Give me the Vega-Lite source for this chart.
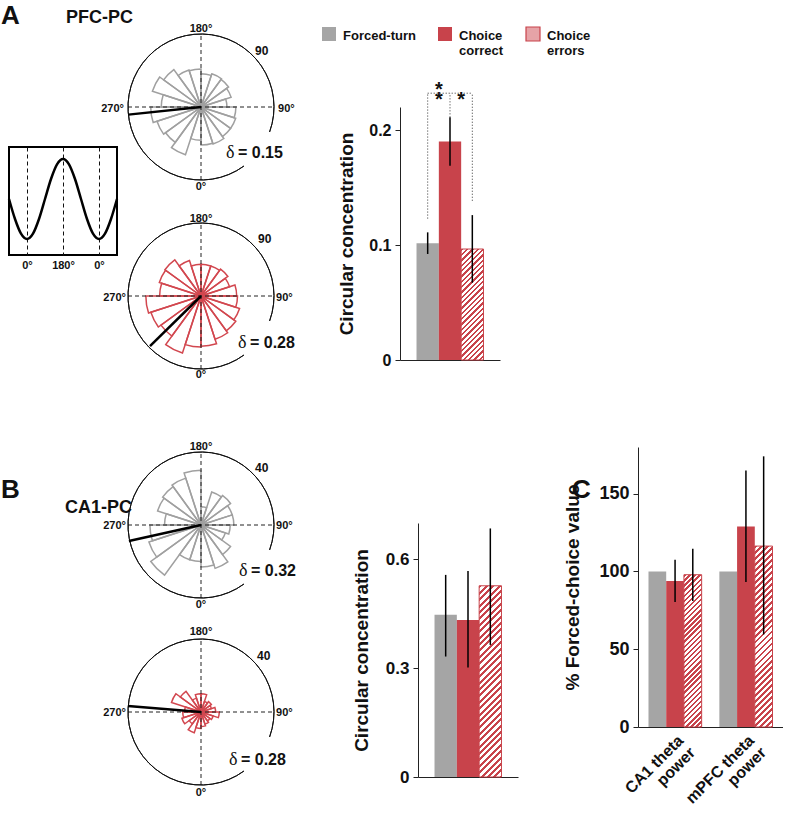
{
"$schema":"https://vega.github.io/schema/vega-lite/v6.json",
"padding":0,
"background":"white",
"config":{
 "font":"Liberation Sans",
 "view":{"stroke":null},
 "axis":{"labelFont":"Liberation Sans","titleFont":"Liberation Sans","labelColor":"#111","titleColor":"#111","labelFontWeight":"bold","titleFontWeight":"bold","domainColor":"#222","tickColor":"#222","grid":false},
 "title":{"font":"Liberation Sans","fontWeight":"bold","color":"#111","anchor":"start","frame":"group","baseline":"alphabetic"},
 "legend":{"labelFont":"Liberation Sans"}
},
"spacing":0,
"bounds":"flush",
"hconcat":[
 {"width":8,"height":1,"data":{"values":[]},"mark":"point"},
 {"spacing":0,"bounds":"flush","vconcat":[
  {"width":108,"height":147,"data":{"values":[]},"mark":"point"},
  {"width":108,"height":108,
   "view":{"stroke":"black","strokeWidth":2},
   "title":{"text":"A","fontSize":26,"dx":-8,"offset":118},
   "data":{"values":[{"phase":-90,"v":0},{"phase":-60,"v":-0.5},{"phase":-30,"v":-0.866},{"phase":0,"v":-1},{"phase":30,"v":-0.866},{"phase":60,"v":-0.5},{"phase":90,"v":0},{"phase":120,"v":0.5},{"phase":150,"v":0.866},{"phase":180,"v":1},{"phase":210,"v":0.866},{"phase":240,"v":0.5},{"phase":270,"v":0},{"phase":300,"v":-0.5},{"phase":330,"v":-0.866},{"phase":360,"v":-1},{"phase":390,"v":-0.866},{"phase":420,"v":-0.5},{"phase":450,"v":0}]},
   "mark":{"type":"line","color":"black","strokeWidth":2.5,"interpolate":"monotone"},
   "encoding":{
    "x":{"field":"phase","type":"quantitative","scale":{"domain":[-90,450],"nice":false,"zero":false},"axis":{"values":[0,180,360],"labelExpr":"datum.value == 180 ? '180°' : '0°'","grid":true,"gridDash":[4,3],"gridColor":"#111","gridWidth":1,"ticks":false,"tickSize":0,"domain":false,"title":null,"labelFontSize":11,"labelPadding":4}},
    "y":{"field":"v","type":"quantitative","scale":{"domain":[-1.4,1.3],"nice":false,"zero":false},"axis":null}
   }
  }
 ]},
 {"width":119,"height":1,"data":{"values":[]},"mark":"point"},
 {"spacing":0,"bounds":"flush","vconcat":[
  {"width":1,"height":34,"data":{"values":[]},"mark":"point"},
  {"width":146,"height":146,
   "title":{"text":"PFC-PC","fontSize":18,"dx":-62,"offset":-4},
   "data":{"values":[{"a0":0,"a1":18,"n":47},{"a0":18,"a1":36,"n":48},{"a0":36,"a1":54,"n":45},{"a0":54,"a1":72,"n":45},{"a0":72,"a1":90,"n":43},{"a0":90,"a1":108,"n":32},{"a0":108,"a1":126,"n":39},{"a0":126,"a1":144,"n":42},{"a0":144,"a1":162,"n":43},{"a0":162,"a1":180,"n":41},{"a0":180,"a1":198,"n":47},{"a0":198,"a1":216,"n":48},{"a0":216,"a1":234,"n":57},{"a0":234,"a1":252,"n":63},{"a0":252,"a1":270,"n":49},{"a0":270,"a1":288,"n":62},{"a0":288,"a1":306,"n":57},{"a0":306,"a1":324,"n":54},{"a0":324,"a1":342,"n":62},{"a0":342,"a1":360,"n":41}]},
   "layer":[
    {"mark":{"type":"arc","filled":false,"stroke":"#a0a0a0","strokeWidth":1.5},"encoding":{"theta":{"field":"a0","type":"quantitative","stack":null,"scale":{"type":"linear","domain":[0,360],"range":[3.141592653589793,-3.141592653589793],"zero":false,"nice":false}},"theta2":{"field":"a1"},"radius":{"field":"n","type":"quantitative","scale":{"type":"linear","domain":[0,90],"range":[0,73],"zero":true,"nice":false}}}},
    {"data":{"values":[{}]},"mark":{"type":"rule","color":"#222","strokeWidth":1,"strokeDash":[4,3]},"encoding":{"x":{"datum":0,"type":"quantitative","scale":{"domain":[-90,90],"nice":false,"zero":false},"axis":null},"y":{"datum":-90,"type":"quantitative","scale":{"domain":[-90,90],"nice":false,"zero":false},"axis":null},"y2":{"datum":90}}},
    {"data":{"values":[{}]},"mark":{"type":"rule","color":"#222","strokeWidth":1,"strokeDash":[4,3]},"encoding":{"x":{"datum":-90,"type":"quantitative","scale":{"domain":[-90,90],"nice":false,"zero":false},"axis":null},"x2":{"datum":90},"y":{"datum":0,"type":"quantitative","scale":{"domain":[-90,90],"nice":false,"zero":false},"axis":null}}},
    {"data":{"values":[{}]},"mark":{"type":"arc","filled":false,"stroke":"#111","strokeWidth":1},"encoding":{"theta":{"datum":70,"type":"quantitative","scale":{"type":"linear","domain":[0,360],"range":[3.141592653589793,-3.141592653589793],"zero":false,"nice":false}},"theta2":{"datum":396},"radius":{"datum":90,"type":"quantitative","scale":{"type":"linear","domain":[0,90],"range":[0,73],"zero":true,"nice":false}},"radius2":{"datum":90}}},
    {"data":{"values":[{}]},"mark":{"type":"rule","color":"black","strokeWidth":2.5},"encoding":{"x":{"datum":0,"type":"quantitative","scale":{"domain":[-90,90],"nice":false,"zero":false},"axis":null},"y":{"datum":0,"type":"quantitative","scale":{"domain":[-90,90],"nice":false,"zero":false},"axis":null},"x2":{"datum":-89.5},"y2":{"datum":-9.4}}},
    {"data":{"values":[{}]},"mark":{"type":"text","text":"180°","align":"center","baseline":"alphabetic","fontSize":11,"fontWeight":"bold","color":"#111"},"encoding":{"x":{"datum":0,"type":"quantitative","scale":{"domain":[-90,90],"nice":false,"zero":false},"axis":null},"y":{"datum":92.5,"type":"quantitative","scale":{"domain":[-90,90],"nice":false,"zero":false},"axis":null}}},
    {"data":{"values":[{}]},"mark":{"type":"text","text":"0°","align":"center","baseline":"alphabetic","fontSize":11,"fontWeight":"bold","color":"#111"},"encoding":{"x":{"datum":0,"type":"quantitative","scale":{"domain":[-90,90],"nice":false,"zero":false},"axis":null},"y":{"datum":-102.3,"type":"quantitative","scale":{"domain":[-90,90],"nice":false,"zero":false},"axis":null}}},
    {"data":{"values":[{}]},"mark":{"type":"text","text":"270°","align":"right","baseline":"alphabetic","fontSize":11,"fontWeight":"bold","color":"#111"},"encoding":{"x":{"datum":-95,"type":"quantitative","scale":{"domain":[-90,90],"nice":false,"zero":false},"axis":null},"y":{"datum":-6.2,"type":"quantitative","scale":{"domain":[-90,90],"nice":false,"zero":false},"axis":null}}},
    {"data":{"values":[{}]},"mark":{"type":"text","text":"90°","align":"left","baseline":"alphabetic","fontSize":11,"fontWeight":"bold","color":"#111"},"encoding":{"x":{"datum":95,"type":"quantitative","scale":{"domain":[-90,90],"nice":false,"zero":false},"axis":null},"y":{"datum":-6.2,"type":"quantitative","scale":{"domain":[-90,90],"nice":false,"zero":false},"axis":null}}},
    {"data":{"values":[{}]},"mark":{"type":"text","text":"90","align":"left","baseline":"alphabetic","fontSize":12,"fontWeight":"bold","color":"#111"},"encoding":{"x":{"datum":66.6,"type":"quantitative","scale":{"domain":[-90,90],"nice":false,"zero":false},"axis":null},"y":{"datum":64.1,"type":"quantitative","scale":{"domain":[-90,90],"nice":false,"zero":false},"axis":null}}},
    {"data":{"values":[{}]},"mark":{"type":"text","text":"δ","align":"left","baseline":"alphabetic","fontSize":18,"font":"Liberation Serif","color":"#111"},"encoding":{"x":{"datum":30.8,"type":"quantitative","scale":{"domain":[-90,90],"nice":false,"zero":false},"axis":null},"y":{"datum":-62.9,"type":"quantitative","scale":{"domain":[-90,90],"nice":false,"zero":false},"axis":null}}},
    {"data":{"values":[{}]},"mark":{"type":"text","text":"= 0.15","align":"left","baseline":"alphabetic","fontSize":16,"fontWeight":"bold","color":"#111"},"encoding":{"x":{"datum":45.6,"type":"quantitative","scale":{"domain":[-90,90],"nice":false,"zero":false},"axis":null},"y":{"datum":-62.9,"type":"quantitative","scale":{"domain":[-90,90],"nice":false,"zero":false},"axis":null}}}
   ]
  },
  {"width":1,"height":43,"data":{"values":[]},"mark":"point"},
  {"width":146,"height":146,
   "data":{"values":[{"a0":0,"a1":18,"n":62},{"a0":18,"a1":36,"n":56},{"a0":36,"a1":54,"n":53},{"a0":54,"a1":72,"n":50},{"a0":72,"a1":90,"n":45},{"a0":90,"a1":108,"n":44},{"a0":108,"a1":126,"n":37},{"a0":126,"a1":144,"n":41},{"a0":144,"a1":162,"n":39},{"a0":162,"a1":180,"n":39},{"a0":180,"a1":198,"n":39},{"a0":198,"a1":216,"n":46},{"a0":216,"a1":234,"n":55},{"a0":234,"a1":252,"n":54},{"a0":252,"a1":270,"n":51},{"a0":270,"a1":288,"n":68},{"a0":288,"a1":306,"n":65},{"a0":306,"a1":324,"n":61},{"a0":324,"a1":342,"n":74},{"a0":342,"a1":360,"n":63}]},
   "layer":[
    {"mark":{"type":"arc","filled":false,"stroke":"#d2474f","strokeWidth":1.5},"encoding":{"theta":{"field":"a0","type":"quantitative","stack":null,"scale":{"type":"linear","domain":[0,360],"range":[3.141592653589793,-3.141592653589793],"zero":false,"nice":false}},"theta2":{"field":"a1"},"radius":{"field":"n","type":"quantitative","scale":{"type":"linear","domain":[0,90],"range":[0,73],"zero":true,"nice":false}}}},
    {"data":{"values":[{}]},"mark":{"type":"rule","color":"#222","strokeWidth":1,"strokeDash":[4,3]},"encoding":{"x":{"datum":0,"type":"quantitative","scale":{"domain":[-90,90],"nice":false,"zero":false},"axis":null},"y":{"datum":-90,"type":"quantitative","scale":{"domain":[-90,90],"nice":false,"zero":false},"axis":null},"y2":{"datum":90}}},
    {"data":{"values":[{}]},"mark":{"type":"rule","color":"#222","strokeWidth":1,"strokeDash":[4,3]},"encoding":{"x":{"datum":-90,"type":"quantitative","scale":{"domain":[-90,90],"nice":false,"zero":false},"axis":null},"x2":{"datum":90},"y":{"datum":0,"type":"quantitative","scale":{"domain":[-90,90],"nice":false,"zero":false},"axis":null}}},
    {"data":{"values":[{}]},"mark":{"type":"arc","filled":false,"stroke":"#111","strokeWidth":1},"encoding":{"theta":{"datum":70,"type":"quantitative","scale":{"type":"linear","domain":[0,360],"range":[3.141592653589793,-3.141592653589793],"zero":false,"nice":false}},"theta2":{"datum":396},"radius":{"datum":90,"type":"quantitative","scale":{"type":"linear","domain":[0,90],"range":[0,73],"zero":true,"nice":false}},"radius2":{"datum":90}}},
    {"data":{"values":[{}]},"mark":{"type":"rule","color":"black","strokeWidth":2.5},"encoding":{"x":{"datum":0,"type":"quantitative","scale":{"domain":[-90,90],"nice":false,"zero":false},"axis":null},"y":{"datum":0,"type":"quantitative","scale":{"domain":[-90,90],"nice":false,"zero":false},"axis":null},"x2":{"datum":-62.9},"y2":{"datum":-61.7}}},
    {"data":{"values":[{}]},"mark":{"type":"text","text":"180°","align":"center","baseline":"alphabetic","fontSize":11,"fontWeight":"bold","color":"#111"},"encoding":{"x":{"datum":0,"type":"quantitative","scale":{"domain":[-90,90],"nice":false,"zero":false},"axis":null},"y":{"datum":91.2,"type":"quantitative","scale":{"domain":[-90,90],"nice":false,"zero":false},"axis":null}}},
    {"data":{"values":[{}]},"mark":{"type":"text","text":"0°","align":"center","baseline":"alphabetic","fontSize":11,"fontWeight":"bold","color":"#111"},"encoding":{"x":{"datum":0,"type":"quantitative","scale":{"domain":[-90,90],"nice":false,"zero":false},"axis":null},"y":{"datum":-101,"type":"quantitative","scale":{"domain":[-90,90],"nice":false,"zero":false},"axis":null}}},
    {"data":{"values":[{}]},"mark":{"type":"text","text":"270°","align":"right","baseline":"alphabetic","fontSize":11,"fontWeight":"bold","color":"#111"},"encoding":{"x":{"datum":-92.5,"type":"quantitative","scale":{"domain":[-90,90],"nice":false,"zero":false},"axis":null},"y":{"datum":-6.2,"type":"quantitative","scale":{"domain":[-90,90],"nice":false,"zero":false},"axis":null}}},
    {"data":{"values":[{}]},"mark":{"type":"text","text":"90°","align":"left","baseline":"alphabetic","fontSize":11,"fontWeight":"bold","color":"#111"},"encoding":{"x":{"datum":92.5,"type":"quantitative","scale":{"domain":[-90,90],"nice":false,"zero":false},"axis":null},"y":{"datum":-6.2,"type":"quantitative","scale":{"domain":[-90,90],"nice":false,"zero":false},"axis":null}}},
    {"data":{"values":[{}]},"mark":{"type":"text","text":"90","align":"left","baseline":"alphabetic","fontSize":12,"fontWeight":"bold","color":"#111"},"encoding":{"x":{"datum":70.3,"type":"quantitative","scale":{"domain":[-90,90],"nice":false,"zero":false},"axis":null},"y":{"datum":65.3,"type":"quantitative","scale":{"domain":[-90,90],"nice":false,"zero":false},"axis":null}}},
    {"data":{"values":[{}]},"mark":{"type":"text","text":"δ","align":"left","baseline":"alphabetic","fontSize":18,"font":"Liberation Serif","color":"#111"},"encoding":{"x":{"datum":45.6,"type":"quantitative","scale":{"domain":[-90,90],"nice":false,"zero":false},"axis":null},"y":{"datum":-64.1,"type":"quantitative","scale":{"domain":[-90,90],"nice":false,"zero":false},"axis":null}}},
    {"data":{"values":[{}]},"mark":{"type":"text","text":"= 0.28","align":"left","baseline":"alphabetic","fontSize":16,"fontWeight":"bold","color":"#111"},"encoding":{"x":{"datum":60.4,"type":"quantitative","scale":{"domain":[-90,90],"nice":false,"zero":false},"axis":null},"y":{"datum":-64.1,"type":"quantitative","scale":{"domain":[-90,90],"nice":false,"zero":false},"axis":null}}}
   ]
  },
  {"width":1,"height":83,"data":{"values":[]},"mark":"point"},
  {"width":146,"height":146,
   "title":{"text":"CA1-PC","fontSize":18,"dx":-63,"offset":-76},
   "data":{"values":[{"a0":0,"a1":18,"n":23},{"a0":18,"a1":36,"n":25},{"a0":36,"a1":54,"n":20},{"a0":54,"a1":72,"n":14},{"a0":72,"a1":90,"n":16},{"a0":90,"a1":108,"n":18},{"a0":108,"a1":126,"n":18},{"a0":126,"a1":144,"n":20},{"a0":144,"a1":162,"n":19},{"a0":162,"a1":180,"n":10},{"a0":180,"a1":198,"n":30},{"a0":198,"a1":216,"n":27},{"a0":216,"a1":234,"n":26},{"a0":234,"a1":252,"n":25},{"a0":252,"a1":270,"n":20},{"a0":270,"a1":288,"n":28},{"a0":288,"a1":306,"n":30},{"a0":306,"a1":324,"n":34},{"a0":324,"a1":342,"n":20},{"a0":342,"a1":360,"n":20}]},
   "layer":[
    {"mark":{"type":"arc","filled":false,"stroke":"#a0a0a0","strokeWidth":1.5},"encoding":{"theta":{"field":"a0","type":"quantitative","stack":null,"scale":{"type":"linear","domain":[0,360],"range":[3.141592653589793,-3.141592653589793],"zero":false,"nice":false}},"theta2":{"field":"a1"},"radius":{"field":"n","type":"quantitative","scale":{"type":"linear","domain":[0,40],"range":[0,73],"zero":true,"nice":false}}}},
    {"data":{"values":[{}]},"mark":{"type":"rule","color":"#222","strokeWidth":1,"strokeDash":[4,3]},"encoding":{"x":{"datum":0,"type":"quantitative","scale":{"domain":[-40,40],"nice":false,"zero":false},"axis":null},"y":{"datum":-40,"type":"quantitative","scale":{"domain":[-40,40],"nice":false,"zero":false},"axis":null},"y2":{"datum":40}}},
    {"data":{"values":[{}]},"mark":{"type":"rule","color":"#222","strokeWidth":1,"strokeDash":[4,3]},"encoding":{"x":{"datum":-40,"type":"quantitative","scale":{"domain":[-40,40],"nice":false,"zero":false},"axis":null},"x2":{"datum":40},"y":{"datum":0,"type":"quantitative","scale":{"domain":[-40,40],"nice":false,"zero":false},"axis":null}}},
    {"data":{"values":[{}]},"mark":{"type":"arc","filled":false,"stroke":"#111","strokeWidth":1},"encoding":{"theta":{"datum":70,"type":"quantitative","scale":{"type":"linear","domain":[0,360],"range":[3.141592653589793,-3.141592653589793],"zero":false,"nice":false}},"theta2":{"datum":396},"radius":{"datum":40,"type":"quantitative","scale":{"type":"linear","domain":[0,40],"range":[0,73],"zero":true,"nice":false}},"radius2":{"datum":40}}},
    {"data":{"values":[{}]},"mark":{"type":"rule","color":"black","strokeWidth":2.5},"encoding":{"x":{"datum":0,"type":"quantitative","scale":{"domain":[-40,40],"nice":false,"zero":false},"axis":null},"y":{"datum":0,"type":"quantitative","scale":{"domain":[-40,40],"nice":false,"zero":false},"axis":null},"x2":{"datum":-39.5},"y2":{"datum":-8.8}}},
    {"data":{"values":[{}]},"mark":{"type":"text","text":"180°","align":"center","baseline":"alphabetic","fontSize":11,"fontWeight":"bold","color":"#111"},"encoding":{"x":{"datum":0,"type":"quantitative","scale":{"domain":[-40,40],"nice":false,"zero":false},"axis":null},"y":{"datum":41.1,"type":"quantitative","scale":{"domain":[-40,40],"nice":false,"zero":false},"axis":null}}},
    {"data":{"values":[{}]},"mark":{"type":"text","text":"0°","align":"center","baseline":"alphabetic","fontSize":11,"fontWeight":"bold","color":"#111"},"encoding":{"x":{"datum":0,"type":"quantitative","scale":{"domain":[-40,40],"nice":false,"zero":false},"axis":null},"y":{"datum":-45.5,"type":"quantitative","scale":{"domain":[-40,40],"nice":false,"zero":false},"axis":null}}},
    {"data":{"values":[{}]},"mark":{"type":"text","text":"270°","align":"right","baseline":"alphabetic","fontSize":11,"fontWeight":"bold","color":"#111"},"encoding":{"x":{"datum":-41.1,"type":"quantitative","scale":{"domain":[-40,40],"nice":false,"zero":false},"axis":null},"y":{"datum":-2.2,"type":"quantitative","scale":{"domain":[-40,40],"nice":false,"zero":false},"axis":null}}},
    {"data":{"values":[{}]},"mark":{"type":"text","text":"90°","align":"left","baseline":"alphabetic","fontSize":11,"fontWeight":"bold","color":"#111"},"encoding":{"x":{"datum":41.1,"type":"quantitative","scale":{"domain":[-40,40],"nice":false,"zero":false},"axis":null},"y":{"datum":-2.2,"type":"quantitative","scale":{"domain":[-40,40],"nice":false,"zero":false},"axis":null}}},
    {"data":{"values":[{}]},"mark":{"type":"text","text":"40","align":"left","baseline":"alphabetic","fontSize":12,"fontWeight":"bold","color":"#111"},"encoding":{"x":{"datum":29.6,"type":"quantitative","scale":{"domain":[-40,40],"nice":false,"zero":false},"axis":null},"y":{"datum":29,"type":"quantitative","scale":{"domain":[-40,40],"nice":false,"zero":false},"axis":null}}},
    {"data":{"values":[{}]},"mark":{"type":"text","text":"δ","align":"left","baseline":"alphabetic","fontSize":18,"font":"Liberation Serif","color":"#111"},"encoding":{"x":{"datum":20.8,"type":"quantitative","scale":{"domain":[-40,40],"nice":false,"zero":false},"axis":null},"y":{"datum":-27.9,"type":"quantitative","scale":{"domain":[-40,40],"nice":false,"zero":false},"axis":null}}},
    {"data":{"values":[{}]},"mark":{"type":"text","text":"= 0.32","align":"left","baseline":"alphabetic","fontSize":16,"fontWeight":"bold","color":"#111"},"encoding":{"x":{"datum":27.4,"type":"quantitative","scale":{"domain":[-40,40],"nice":false,"zero":false},"axis":null},"y":{"datum":-27.9,"type":"quantitative","scale":{"domain":[-40,40],"nice":false,"zero":false},"axis":null}}}
   ]
  },
  {"width":1,"height":41,"data":{"values":[]},"mark":"point"},
  {"width":146,"height":146,
   "data":{"values":[{"a0":0,"a1":18,"n":8},{"a0":18,"a1":36,"n":7},{"a0":36,"a1":54,"n":6},{"a0":54,"a1":72,"n":7},{"a0":72,"a1":90,"n":10},{"a0":90,"a1":108,"n":8},{"a0":108,"a1":126,"n":6},{"a0":126,"a1":144,"n":7},{"a0":144,"a1":162,"n":6},{"a0":162,"a1":180,"n":10},{"a0":180,"a1":198,"n":10},{"a0":198,"a1":216,"n":8},{"a0":216,"a1":234,"n":14},{"a0":234,"a1":252,"n":17},{"a0":252,"a1":270,"n":9},{"a0":270,"a1":288,"n":10},{"a0":288,"a1":306,"n":11},{"a0":306,"a1":324,"n":8},{"a0":324,"a1":342,"n":12},{"a0":342,"a1":360,"n":9}]},
   "layer":[
    {"mark":{"type":"arc","filled":false,"stroke":"#d2474f","strokeWidth":1.5},"encoding":{"theta":{"field":"a0","type":"quantitative","stack":null,"scale":{"type":"linear","domain":[0,360],"range":[3.141592653589793,-3.141592653589793],"zero":false,"nice":false}},"theta2":{"field":"a1"},"radius":{"field":"n","type":"quantitative","scale":{"type":"linear","domain":[0,40],"range":[0,73],"zero":true,"nice":false}}}},
    {"data":{"values":[{}]},"mark":{"type":"rule","color":"#222","strokeWidth":1,"strokeDash":[4,3]},"encoding":{"x":{"datum":0,"type":"quantitative","scale":{"domain":[-40,40],"nice":false,"zero":false},"axis":null},"y":{"datum":-40,"type":"quantitative","scale":{"domain":[-40,40],"nice":false,"zero":false},"axis":null},"y2":{"datum":40}}},
    {"data":{"values":[{}]},"mark":{"type":"rule","color":"#222","strokeWidth":1,"strokeDash":[4,3]},"encoding":{"x":{"datum":-40,"type":"quantitative","scale":{"domain":[-40,40],"nice":false,"zero":false},"axis":null},"x2":{"datum":40},"y":{"datum":0,"type":"quantitative","scale":{"domain":[-40,40],"nice":false,"zero":false},"axis":null}}},
    {"data":{"values":[{}]},"mark":{"type":"arc","filled":false,"stroke":"#111","strokeWidth":1},"encoding":{"theta":{"datum":70,"type":"quantitative","scale":{"type":"linear","domain":[0,360],"range":[3.141592653589793,-3.141592653589793],"zero":false,"nice":false}},"theta2":{"datum":396},"radius":{"datum":40,"type":"quantitative","scale":{"type":"linear","domain":[0,40],"range":[0,73],"zero":true,"nice":false}},"radius2":{"datum":40}}},
    {"data":{"values":[{}]},"mark":{"type":"rule","color":"black","strokeWidth":2.5},"encoding":{"x":{"datum":0,"type":"quantitative","scale":{"domain":[-40,40],"nice":false,"zero":false},"axis":null},"y":{"datum":0,"type":"quantitative","scale":{"domain":[-40,40],"nice":false,"zero":false},"axis":null},"x2":{"datum":-40},"y2":{"datum":3.3}}},
    {"data":{"values":[{}]},"mark":{"type":"text","text":"180°","align":"center","baseline":"alphabetic","fontSize":11,"fontWeight":"bold","color":"#111"},"encoding":{"x":{"datum":0,"type":"quantitative","scale":{"domain":[-40,40],"nice":false,"zero":false},"axis":null},"y":{"datum":42.2,"type":"quantitative","scale":{"domain":[-40,40],"nice":false,"zero":false},"axis":null}}},
    {"data":{"values":[{}]},"mark":{"type":"text","text":"0°","align":"center","baseline":"alphabetic","fontSize":11,"fontWeight":"bold","color":"#111"},"encoding":{"x":{"datum":0,"type":"quantitative","scale":{"domain":[-40,40],"nice":false,"zero":false},"axis":null},"y":{"datum":-46,"type":"quantitative","scale":{"domain":[-40,40],"nice":false,"zero":false},"axis":null}}},
    {"data":{"values":[{}]},"mark":{"type":"text","text":"270°","align":"right","baseline":"alphabetic","fontSize":11,"fontWeight":"bold","color":"#111"},"encoding":{"x":{"datum":-41.1,"type":"quantitative","scale":{"domain":[-40,40],"nice":false,"zero":false},"axis":null},"y":{"datum":-2.2,"type":"quantitative","scale":{"domain":[-40,40],"nice":false,"zero":false},"axis":null}}},
    {"data":{"values":[{}]},"mark":{"type":"text","text":"90°","align":"left","baseline":"alphabetic","fontSize":11,"fontWeight":"bold","color":"#111"},"encoding":{"x":{"datum":41.1,"type":"quantitative","scale":{"domain":[-40,40],"nice":false,"zero":false},"axis":null},"y":{"datum":-2.2,"type":"quantitative","scale":{"domain":[-40,40],"nice":false,"zero":false},"axis":null}}},
    {"data":{"values":[{}]},"mark":{"type":"text","text":"40","align":"left","baseline":"alphabetic","fontSize":12,"fontWeight":"bold","color":"#111"},"encoding":{"x":{"datum":30.7,"type":"quantitative","scale":{"domain":[-40,40],"nice":false,"zero":false},"axis":null},"y":{"datum":28.5,"type":"quantitative","scale":{"domain":[-40,40],"nice":false,"zero":false},"axis":null}}},
    {"data":{"values":[{}]},"mark":{"type":"text","text":"δ","align":"left","baseline":"alphabetic","fontSize":18,"font":"Liberation Serif","color":"#111"},"encoding":{"x":{"datum":15.3,"type":"quantitative","scale":{"domain":[-40,40],"nice":false,"zero":false},"axis":null},"y":{"datum":-29,"type":"quantitative","scale":{"domain":[-40,40],"nice":false,"zero":false},"axis":null}}},
    {"data":{"values":[{}]},"mark":{"type":"text","text":"= 0.28","align":"left","baseline":"alphabetic","fontSize":16,"fontWeight":"bold","color":"#111"},"encoding":{"x":{"datum":21.9,"type":"quantitative","scale":{"domain":[-40,40],"nice":false,"zero":false},"axis":null},"y":{"datum":-29,"type":"quantitative","scale":{"domain":[-40,40],"nice":false,"zero":false},"axis":null}}}
   ]
  }
 ]},
 {"width":272,"height":1,"data":{"values":[]},"mark":"point"},
 {"spacing":0,"bounds":"flush","vconcat":[
  {"width":1,"height":107,"data":{"values":[]},"mark":"point"},
  {"width":100,"height":253,
   "data":{"values":[{"cond":"Forced-turn","v":0.1015,"lo":0.0922,"hi":0.111},{"cond":"Choice correct","v":0.19,"lo":0.169,"hi":0.211},{"cond":"Choice errors","v":0.0965,"lo":0.0672,"hi":0.126}]},
   "encoding":{
    "x":{"field":"cond","type":"nominal","sort":["Forced-turn","Choice correct","Choice errors"],"scale":{"domain":["Forced-turn","Choice correct","Choice errors"],"paddingInner":0,"paddingOuter":0.74},"axis":{"title":null,"labels":false,"ticks":false}},
    "y":{"field":"v","type":"quantitative","scale":{"domain":[0,0.22],"nice":false,"zero":true},"axis":{"values":[0,0.1,0.2],"labelExpr":"datum.value == 0 ? '0' : format(datum.value, '.1f')","title":"Circular concentration","titleFontSize":19,"labelFontSize":16,"tickSize":5,"labelPadding":4,"titlePadding":12}}
   },
   "layer":[
    {"transform":[{"filter":"datum.cond != 'Choice errors'"}],"mark":{"type":"bar"},
     "encoding":{"color":{"field":"cond","type":"nominal","scale":{"domain":["Forced-turn","Choice correct","Choice errors"],"range":["#a5a5a5","#c8434b","#e6a3a7"]},
      "legend":{"title":null,"orient":"none","legendX":320,"legendY":26,"direction":"horizontal","symbolType":"square","symbolSize":196,"labelFontSize":13,"labelFontWeight":"bold","labelColor":"#111","labelOffset":6,"columnPadding":19,"padding":0,"labelLimit":300,
       "labelExpr":"datum.value == 'Choice correct' ? ['Choice','correct'] : datum.value == 'Choice errors' ? ['Choice','errors'] : ['Forced-turn','']",
       "encode":{"symbols":{"update":{"fill":[{"test":"datum.value === 'Choice errors'","value":{"gradient":"linear","x1":0,"y1":0,"x2":1,"y2":1,"stops":[{"offset":0,"color":"#c8434b"},{"offset":0.38,"color":"#c8434b"},{"offset":0.38,"color":"#ffffff"},{"offset":0.62,"color":"#ffffff"},{"offset":0.62,"color":"#c8434b"},{"offset":1,"color":"#c8434b"}]}},{"test":"datum.value === 'Choice correct'","value":"#c8434b"},{"value":"#a5a5a5"}],"stroke":[{"test":"datum.value === 'Choice errors'","value":"#c8434b"},{"value":"transparent"}],"strokeWidth":{"value":1.2}}},"labels":{"update":{"lineHeight":{"value":15},"dy":{"value":2}}}}}}}},
    {"transform":[{"filter":"datum.cond == 'Choice errors'"}],"mark":{"type":"bar","stroke":"#c8434b","strokeWidth":1,"fill":{"gradient":"linear","x1":0,"y1":0,"x2":0.2321,"y2":1.1543,"stops":[{"offset":0,"color":"#c8434b"},{"offset":0.018,"color":"#c8434b"},{"offset":0.018,"color":"#ffffff"},{"offset":0.04,"color":"#ffffff"},{"offset":0.04,"color":"#c8434b"},{"offset":0.058,"color":"#c8434b"},{"offset":0.058,"color":"#ffffff"},{"offset":0.08,"color":"#ffffff"},{"offset":0.08,"color":"#c8434b"},{"offset":0.098,"color":"#c8434b"},{"offset":0.098,"color":"#ffffff"},{"offset":0.12,"color":"#ffffff"},{"offset":0.12,"color":"#c8434b"},{"offset":0.138,"color":"#c8434b"},{"offset":0.138,"color":"#ffffff"},{"offset":0.16,"color":"#ffffff"},{"offset":0.16,"color":"#c8434b"},{"offset":0.178,"color":"#c8434b"},{"offset":0.178,"color":"#ffffff"},{"offset":0.2,"color":"#ffffff"},{"offset":0.2,"color":"#c8434b"},{"offset":0.218,"color":"#c8434b"},{"offset":0.218,"color":"#ffffff"},{"offset":0.24,"color":"#ffffff"},{"offset":0.24,"color":"#c8434b"},{"offset":0.258,"color":"#c8434b"},{"offset":0.258,"color":"#ffffff"},{"offset":0.28,"color":"#ffffff"},{"offset":0.28,"color":"#c8434b"},{"offset":0.298,"color":"#c8434b"},{"offset":0.298,"color":"#ffffff"},{"offset":0.32,"color":"#ffffff"},{"offset":0.32,"color":"#c8434b"},{"offset":0.338,"color":"#c8434b"},{"offset":0.338,"color":"#ffffff"},{"offset":0.36,"color":"#ffffff"},{"offset":0.36,"color":"#c8434b"},{"offset":0.378,"color":"#c8434b"},{"offset":0.378,"color":"#ffffff"},{"offset":0.4,"color":"#ffffff"},{"offset":0.4,"color":"#c8434b"},{"offset":0.418,"color":"#c8434b"},{"offset":0.418,"color":"#ffffff"},{"offset":0.44,"color":"#ffffff"},{"offset":0.44,"color":"#c8434b"},{"offset":0.458,"color":"#c8434b"},{"offset":0.458,"color":"#ffffff"},{"offset":0.48,"color":"#ffffff"},{"offset":0.48,"color":"#c8434b"},{"offset":0.498,"color":"#c8434b"},{"offset":0.498,"color":"#ffffff"},{"offset":0.52,"color":"#ffffff"},{"offset":0.52,"color":"#c8434b"},{"offset":0.538,"color":"#c8434b"},{"offset":0.538,"color":"#ffffff"},{"offset":0.56,"color":"#ffffff"},{"offset":0.56,"color":"#c8434b"},{"offset":0.578,"color":"#c8434b"},{"offset":0.578,"color":"#ffffff"},{"offset":0.6,"color":"#ffffff"},{"offset":0.6,"color":"#c8434b"},{"offset":0.618,"color":"#c8434b"},{"offset":0.618,"color":"#ffffff"},{"offset":0.64,"color":"#ffffff"},{"offset":0.64,"color":"#c8434b"},{"offset":0.658,"color":"#c8434b"},{"offset":0.658,"color":"#ffffff"},{"offset":0.68,"color":"#ffffff"},{"offset":0.68,"color":"#c8434b"},{"offset":0.698,"color":"#c8434b"},{"offset":0.698,"color":"#ffffff"},{"offset":0.72,"color":"#ffffff"},{"offset":0.72,"color":"#c8434b"},{"offset":0.738,"color":"#c8434b"},{"offset":0.738,"color":"#ffffff"},{"offset":0.76,"color":"#ffffff"},{"offset":0.76,"color":"#c8434b"},{"offset":0.778,"color":"#c8434b"},{"offset":0.778,"color":"#ffffff"},{"offset":0.8,"color":"#ffffff"},{"offset":0.8,"color":"#c8434b"},{"offset":0.818,"color":"#c8434b"},{"offset":0.818,"color":"#ffffff"},{"offset":0.84,"color":"#ffffff"},{"offset":0.84,"color":"#c8434b"},{"offset":0.858,"color":"#c8434b"},{"offset":0.858,"color":"#ffffff"},{"offset":0.88,"color":"#ffffff"},{"offset":0.88,"color":"#c8434b"},{"offset":0.898,"color":"#c8434b"},{"offset":0.898,"color":"#ffffff"},{"offset":0.92,"color":"#ffffff"},{"offset":0.92,"color":"#c8434b"},{"offset":0.938,"color":"#c8434b"},{"offset":0.938,"color":"#ffffff"},{"offset":0.96,"color":"#ffffff"},{"offset":0.96,"color":"#c8434b"},{"offset":0.978,"color":"#c8434b"},{"offset":0.978,"color":"#ffffff"},{"offset":1,"color":"#ffffff"}]}}},
    {"mark":{"type":"rule","color":"black","strokeWidth":1.5},"encoding":{"y":{"field":"lo","type":"quantitative","scale":{"domain":[0,0.22],"nice":false,"zero":true},"title":"Circular concentration"},"y2":{"field":"hi"}}},
    {"transform":[{"filter":"datum.cond == 'Forced-turn'"}],"mark":{"type":"rule","color":"#333","strokeWidth":1,"strokeDash":[1,2]},"encoding":{"y":{"datum":0.123,"type":"quantitative","scale":{"domain":[0,0.22],"nice":false,"zero":true}},"y2":{"datum":0.232}}},
    {"transform":[{"filter":"datum.cond == 'Choice correct'"}],"mark":{"type":"rule","color":"#333","strokeWidth":1,"strokeDash":[1,2]},"encoding":{"y":{"datum":0.211,"type":"quantitative","scale":{"domain":[0,0.22],"nice":false,"zero":true}},"y2":{"datum":0.232}}},
    {"transform":[{"filter":"datum.cond == 'Choice errors'"}],"mark":{"type":"rule","color":"#333","strokeWidth":1,"strokeDash":[1,2]},"encoding":{"y":{"datum":0.1385,"type":"quantitative","scale":{"domain":[0,0.22],"nice":false,"zero":true}},"y2":{"datum":0.232}}},
    {"mark":{"type":"line","color":"#333","strokeWidth":1,"strokeDash":[1,2]},"encoding":{"y":{"datum":0.232,"type":"quantitative","scale":{"domain":[0,0.22],"nice":false,"zero":true}}}},
    {"transform":[{"filter":"datum.cond == 'Choice correct'"}],"mark":{"type":"text","text":["*","*"],"lineHeight":10,"fontSize":20,"fontWeight":"bold","align":"center","baseline":"alphabetic","color":"#111"},"encoding":{"x":{"field":"cond","type":"nominal","bandPosition":0},"y":{"datum":0.2296,"type":"quantitative","scale":{"domain":[0,0.22],"nice":false,"zero":true}}}},
    {"transform":[{"filter":"datum.cond == 'Choice errors'"}],"mark":{"type":"text","text":"*","fontSize":20,"fontWeight":"bold","align":"center","baseline":"alphabetic","color":"#111"},"encoding":{"x":{"field":"cond","type":"nominal","bandPosition":0},"y":{"datum":0.2209,"type":"quantitative","scale":{"domain":[0,0.22],"nice":false,"zero":true}}}}
   ]
  },
  {"width":1,"height":163,"data":{"values":[]},"mark":"point"},
  {"spacing":0,"bounds":"flush","hconcat":[
   {"width":18,"height":1,"data":{"values":[]},"mark":"point"},
   {"width":100,"height":254,
    "title":{"text":"B","fontSize":26,"dx":-417,"offset":20},
    "data":{"values":[{"cond":"Forced-turn","v":0.447,"lo":0.332,"hi":0.557},{"cond":"Choice correct","v":0.433,"lo":0.302,"hi":0.568},{"cond":"Choice errors","v":0.527,"lo":0.364,"hi":0.685}]},
    "encoding":{
     "x":{"field":"cond","type":"nominal","sort":["Forced-turn","Choice correct","Choice errors"],"scale":{"domain":["Forced-turn","Choice correct","Choice errors"],"paddingInner":0,"paddingOuter":0.74},"axis":{"title":null,"labels":false,"ticks":false}},
     "y":{"field":"v","type":"quantitative","scale":{"domain":[0,0.7],"nice":false,"zero":true},"axis":{"values":[0,0.3,0.6],"labelExpr":"datum.value == 0 ? '0' : format(datum.value, '.1f')","title":"Circular concentration","titleFontSize":19,"labelFontSize":17,"tickSize":5,"labelPadding":4,"titlePadding":14}}
    },
    "layer":[
     {"transform":[{"filter":"datum.cond != 'Choice errors'"}],"mark":{"type":"bar"},"encoding":{"color":{"condition":{"test":"datum.cond == 'Forced-turn'","value":"#a5a5a5"},"value":"#c8434b"}}},
     {"transform":[{"filter":"datum.cond == 'Choice errors'"}],"mark":{"type":"bar","stroke":"#c8434b","strokeWidth":1,"fill":{"gradient":"linear","x1":0,"y1":0,"x2":0.1286,"y2":1.1017,"stops":[{"offset":0,"color":"#c8434b"},{"offset":0.014,"color":"#c8434b"},{"offset":0.014,"color":"#ffffff"},{"offset":0.03,"color":"#ffffff"},{"offset":0.03,"color":"#c8434b"},{"offset":0.044,"color":"#c8434b"},{"offset":0.044,"color":"#ffffff"},{"offset":0.06,"color":"#ffffff"},{"offset":0.06,"color":"#c8434b"},{"offset":0.074,"color":"#c8434b"},{"offset":0.074,"color":"#ffffff"},{"offset":0.09,"color":"#ffffff"},{"offset":0.09,"color":"#c8434b"},{"offset":0.104,"color":"#c8434b"},{"offset":0.104,"color":"#ffffff"},{"offset":0.12,"color":"#ffffff"},{"offset":0.12,"color":"#c8434b"},{"offset":0.134,"color":"#c8434b"},{"offset":0.134,"color":"#ffffff"},{"offset":0.15,"color":"#ffffff"},{"offset":0.15,"color":"#c8434b"},{"offset":0.164,"color":"#c8434b"},{"offset":0.164,"color":"#ffffff"},{"offset":0.18,"color":"#ffffff"},{"offset":0.18,"color":"#c8434b"},{"offset":0.194,"color":"#c8434b"},{"offset":0.194,"color":"#ffffff"},{"offset":0.21,"color":"#ffffff"},{"offset":0.21,"color":"#c8434b"},{"offset":0.224,"color":"#c8434b"},{"offset":0.224,"color":"#ffffff"},{"offset":0.24,"color":"#ffffff"},{"offset":0.24,"color":"#c8434b"},{"offset":0.254,"color":"#c8434b"},{"offset":0.254,"color":"#ffffff"},{"offset":0.27,"color":"#ffffff"},{"offset":0.27,"color":"#c8434b"},{"offset":0.284,"color":"#c8434b"},{"offset":0.284,"color":"#ffffff"},{"offset":0.3,"color":"#ffffff"},{"offset":0.3,"color":"#c8434b"},{"offset":0.314,"color":"#c8434b"},{"offset":0.314,"color":"#ffffff"},{"offset":0.33,"color":"#ffffff"},{"offset":0.33,"color":"#c8434b"},{"offset":0.344,"color":"#c8434b"},{"offset":0.344,"color":"#ffffff"},{"offset":0.36,"color":"#ffffff"},{"offset":0.36,"color":"#c8434b"},{"offset":0.374,"color":"#c8434b"},{"offset":0.374,"color":"#ffffff"},{"offset":0.39,"color":"#ffffff"},{"offset":0.39,"color":"#c8434b"},{"offset":0.404,"color":"#c8434b"},{"offset":0.404,"color":"#ffffff"},{"offset":0.42,"color":"#ffffff"},{"offset":0.42,"color":"#c8434b"},{"offset":0.434,"color":"#c8434b"},{"offset":0.434,"color":"#ffffff"},{"offset":0.45,"color":"#ffffff"},{"offset":0.45,"color":"#c8434b"},{"offset":0.464,"color":"#c8434b"},{"offset":0.464,"color":"#ffffff"},{"offset":0.48,"color":"#ffffff"},{"offset":0.48,"color":"#c8434b"},{"offset":0.494,"color":"#c8434b"},{"offset":0.494,"color":"#ffffff"},{"offset":0.51,"color":"#ffffff"},{"offset":0.51,"color":"#c8434b"},{"offset":0.524,"color":"#c8434b"},{"offset":0.524,"color":"#ffffff"},{"offset":0.54,"color":"#ffffff"},{"offset":0.54,"color":"#c8434b"},{"offset":0.554,"color":"#c8434b"},{"offset":0.554,"color":"#ffffff"},{"offset":0.57,"color":"#ffffff"},{"offset":0.57,"color":"#c8434b"},{"offset":0.584,"color":"#c8434b"},{"offset":0.584,"color":"#ffffff"},{"offset":0.6,"color":"#ffffff"},{"offset":0.6,"color":"#c8434b"},{"offset":0.614,"color":"#c8434b"},{"offset":0.614,"color":"#ffffff"},{"offset":0.63,"color":"#ffffff"},{"offset":0.63,"color":"#c8434b"},{"offset":0.644,"color":"#c8434b"},{"offset":0.644,"color":"#ffffff"},{"offset":0.66,"color":"#ffffff"},{"offset":0.66,"color":"#c8434b"},{"offset":0.674,"color":"#c8434b"},{"offset":0.674,"color":"#ffffff"},{"offset":0.69,"color":"#ffffff"},{"offset":0.69,"color":"#c8434b"},{"offset":0.704,"color":"#c8434b"},{"offset":0.704,"color":"#ffffff"},{"offset":0.72,"color":"#ffffff"},{"offset":0.72,"color":"#c8434b"},{"offset":0.734,"color":"#c8434b"},{"offset":0.734,"color":"#ffffff"},{"offset":0.75,"color":"#ffffff"},{"offset":0.75,"color":"#c8434b"},{"offset":0.764,"color":"#c8434b"},{"offset":0.764,"color":"#ffffff"},{"offset":0.78,"color":"#ffffff"},{"offset":0.78,"color":"#c8434b"},{"offset":0.794,"color":"#c8434b"},{"offset":0.794,"color":"#ffffff"},{"offset":0.81,"color":"#ffffff"},{"offset":0.81,"color":"#c8434b"},{"offset":0.824,"color":"#c8434b"},{"offset":0.824,"color":"#ffffff"},{"offset":0.84,"color":"#ffffff"},{"offset":0.84,"color":"#c8434b"},{"offset":0.854,"color":"#c8434b"},{"offset":0.854,"color":"#ffffff"},{"offset":0.87,"color":"#ffffff"},{"offset":0.87,"color":"#c8434b"},{"offset":0.884,"color":"#c8434b"},{"offset":0.884,"color":"#ffffff"},{"offset":0.9,"color":"#ffffff"},{"offset":0.9,"color":"#c8434b"},{"offset":0.914,"color":"#c8434b"},{"offset":0.914,"color":"#ffffff"},{"offset":0.93,"color":"#ffffff"},{"offset":0.93,"color":"#c8434b"},{"offset":0.944,"color":"#c8434b"},{"offset":0.944,"color":"#ffffff"},{"offset":0.96,"color":"#ffffff"},{"offset":0.96,"color":"#c8434b"},{"offset":0.974,"color":"#c8434b"},{"offset":0.974,"color":"#ffffff"},{"offset":0.99,"color":"#ffffff"},{"offset":0.99,"color":"#c8434b"},{"offset":1,"color":"#c8434b"}]}}},
     {"mark":{"type":"rule","color":"black","strokeWidth":1.5},"encoding":{"y":{"field":"lo","type":"quantitative","scale":{"domain":[0,0.7],"nice":false,"zero":true},"title":"Circular concentration"},"y2":{"field":"hi"}}}
    ]
   }
  ]}
 ]},
 {"width":238,"height":1,"data":{"values":[]},"mark":"point"},
 {"spacing":0,"bounds":"flush","vconcat":[
  {"width":1,"height":447,"data":{"values":[]},"mark":"point"},
  {"width":145,"height":280,
   "title":{"text":"C","fontSize":26,"dx":-66,"offset":-56},
   "data":{"values":[{"m":"CA1 theta power","cond":"Forced-turn","v":100},{"m":"CA1 theta power","cond":"Choice correct","v":93.8,"lo":80.3,"hi":107.5},{"m":"CA1 theta power","cond":"Choice errors","v":97.9,"lo":81,"hi":114.6},{"m":"mPFC theta power","cond":"Forced-turn","v":100},{"m":"mPFC theta power","cond":"Choice correct","v":128.9,"lo":93.2,"hi":164.9},{"m":"mPFC theta power","cond":"Choice errors","v":116.3,"lo":59.5,"hi":174}]},
   "encoding":{
    "x":{"field":"m","type":"nominal","sort":["CA1 theta power","mPFC theta power"],"scale":{"paddingInner":0.25,"paddingOuter":0.148},"axis":{"title":null,"ticks":false,"labelAngle":-45,"labelAlign":"right","labelBaseline":"top","labelFontSize":16,"labelLineHeight":17,"labelPadding":5,"labelLimit":300,"labelExpr":"datum.value == 'CA1 theta power' ? ['CA1 theta','power'] : ['mPFC theta','power']"}},
    "xOffset":{"field":"cond","type":"nominal","sort":["Forced-turn","Choice correct","Choice errors"],"scale":{"domain":["Forced-turn","Choice correct","Choice errors"],"paddingInner":0,"paddingOuter":0}},
    "y":{"field":"v","type":"quantitative","scale":{"domain":[0,180],"nice":false,"zero":true},"axis":{"values":[0,50,100,150],"title":"% Forced-choice value","titleFontSize":19,"labelFontSize":18,"tickSize":5,"labelPadding":4,"titlePadding":16}}
   },
   "layer":[
    {"transform":[{"filter":"datum.cond != 'Choice errors'"}],"mark":{"type":"bar"},"encoding":{"color":{"condition":{"test":"datum.cond == 'Forced-turn'","value":"#a5a5a5"},"value":"#c8434b"}}},
    {"transform":[{"filter":"datum.cond == 'Choice errors' && datum.m == 'CA1 theta power'"}],"mark":{"type":"bar","stroke":"#c8434b","strokeWidth":1,"fill":{"gradient":"linear","x1":0,"y1":0,"x2":0.1281,"y2":1.1013,"stops":[{"offset":0,"color":"#c8434b"},{"offset":0.014,"color":"#c8434b"},{"offset":0.014,"color":"#ffffff"},{"offset":0.03,"color":"#ffffff"},{"offset":0.03,"color":"#c8434b"},{"offset":0.044,"color":"#c8434b"},{"offset":0.044,"color":"#ffffff"},{"offset":0.06,"color":"#ffffff"},{"offset":0.06,"color":"#c8434b"},{"offset":0.074,"color":"#c8434b"},{"offset":0.074,"color":"#ffffff"},{"offset":0.09,"color":"#ffffff"},{"offset":0.09,"color":"#c8434b"},{"offset":0.104,"color":"#c8434b"},{"offset":0.104,"color":"#ffffff"},{"offset":0.12,"color":"#ffffff"},{"offset":0.12,"color":"#c8434b"},{"offset":0.134,"color":"#c8434b"},{"offset":0.134,"color":"#ffffff"},{"offset":0.15,"color":"#ffffff"},{"offset":0.15,"color":"#c8434b"},{"offset":0.164,"color":"#c8434b"},{"offset":0.164,"color":"#ffffff"},{"offset":0.18,"color":"#ffffff"},{"offset":0.18,"color":"#c8434b"},{"offset":0.194,"color":"#c8434b"},{"offset":0.194,"color":"#ffffff"},{"offset":0.21,"color":"#ffffff"},{"offset":0.21,"color":"#c8434b"},{"offset":0.224,"color":"#c8434b"},{"offset":0.224,"color":"#ffffff"},{"offset":0.24,"color":"#ffffff"},{"offset":0.24,"color":"#c8434b"},{"offset":0.254,"color":"#c8434b"},{"offset":0.254,"color":"#ffffff"},{"offset":0.27,"color":"#ffffff"},{"offset":0.27,"color":"#c8434b"},{"offset":0.284,"color":"#c8434b"},{"offset":0.284,"color":"#ffffff"},{"offset":0.3,"color":"#ffffff"},{"offset":0.3,"color":"#c8434b"},{"offset":0.314,"color":"#c8434b"},{"offset":0.314,"color":"#ffffff"},{"offset":0.33,"color":"#ffffff"},{"offset":0.33,"color":"#c8434b"},{"offset":0.344,"color":"#c8434b"},{"offset":0.344,"color":"#ffffff"},{"offset":0.36,"color":"#ffffff"},{"offset":0.36,"color":"#c8434b"},{"offset":0.374,"color":"#c8434b"},{"offset":0.374,"color":"#ffffff"},{"offset":0.39,"color":"#ffffff"},{"offset":0.39,"color":"#c8434b"},{"offset":0.404,"color":"#c8434b"},{"offset":0.404,"color":"#ffffff"},{"offset":0.42,"color":"#ffffff"},{"offset":0.42,"color":"#c8434b"},{"offset":0.434,"color":"#c8434b"},{"offset":0.434,"color":"#ffffff"},{"offset":0.45,"color":"#ffffff"},{"offset":0.45,"color":"#c8434b"},{"offset":0.464,"color":"#c8434b"},{"offset":0.464,"color":"#ffffff"},{"offset":0.48,"color":"#ffffff"},{"offset":0.48,"color":"#c8434b"},{"offset":0.494,"color":"#c8434b"},{"offset":0.494,"color":"#ffffff"},{"offset":0.51,"color":"#ffffff"},{"offset":0.51,"color":"#c8434b"},{"offset":0.524,"color":"#c8434b"},{"offset":0.524,"color":"#ffffff"},{"offset":0.54,"color":"#ffffff"},{"offset":0.54,"color":"#c8434b"},{"offset":0.554,"color":"#c8434b"},{"offset":0.554,"color":"#ffffff"},{"offset":0.57,"color":"#ffffff"},{"offset":0.57,"color":"#c8434b"},{"offset":0.584,"color":"#c8434b"},{"offset":0.584,"color":"#ffffff"},{"offset":0.6,"color":"#ffffff"},{"offset":0.6,"color":"#c8434b"},{"offset":0.614,"color":"#c8434b"},{"offset":0.614,"color":"#ffffff"},{"offset":0.63,"color":"#ffffff"},{"offset":0.63,"color":"#c8434b"},{"offset":0.644,"color":"#c8434b"},{"offset":0.644,"color":"#ffffff"},{"offset":0.66,"color":"#ffffff"},{"offset":0.66,"color":"#c8434b"},{"offset":0.674,"color":"#c8434b"},{"offset":0.674,"color":"#ffffff"},{"offset":0.69,"color":"#ffffff"},{"offset":0.69,"color":"#c8434b"},{"offset":0.704,"color":"#c8434b"},{"offset":0.704,"color":"#ffffff"},{"offset":0.72,"color":"#ffffff"},{"offset":0.72,"color":"#c8434b"},{"offset":0.734,"color":"#c8434b"},{"offset":0.734,"color":"#ffffff"},{"offset":0.75,"color":"#ffffff"},{"offset":0.75,"color":"#c8434b"},{"offset":0.764,"color":"#c8434b"},{"offset":0.764,"color":"#ffffff"},{"offset":0.78,"color":"#ffffff"},{"offset":0.78,"color":"#c8434b"},{"offset":0.794,"color":"#c8434b"},{"offset":0.794,"color":"#ffffff"},{"offset":0.81,"color":"#ffffff"},{"offset":0.81,"color":"#c8434b"},{"offset":0.824,"color":"#c8434b"},{"offset":0.824,"color":"#ffffff"},{"offset":0.84,"color":"#ffffff"},{"offset":0.84,"color":"#c8434b"},{"offset":0.854,"color":"#c8434b"},{"offset":0.854,"color":"#ffffff"},{"offset":0.87,"color":"#ffffff"},{"offset":0.87,"color":"#c8434b"},{"offset":0.884,"color":"#c8434b"},{"offset":0.884,"color":"#ffffff"},{"offset":0.9,"color":"#ffffff"},{"offset":0.9,"color":"#c8434b"},{"offset":0.914,"color":"#c8434b"},{"offset":0.914,"color":"#ffffff"},{"offset":0.93,"color":"#ffffff"},{"offset":0.93,"color":"#c8434b"},{"offset":0.944,"color":"#c8434b"},{"offset":0.944,"color":"#ffffff"},{"offset":0.96,"color":"#ffffff"},{"offset":0.96,"color":"#c8434b"},{"offset":0.974,"color":"#c8434b"},{"offset":0.974,"color":"#ffffff"},{"offset":0.99,"color":"#ffffff"},{"offset":0.99,"color":"#c8434b"},{"offset":1,"color":"#c8434b"}]}}},
    {"transform":[{"filter":"datum.cond == 'Choice errors' && datum.m == 'mPFC theta power'"}],"mark":{"type":"bar","stroke":"#c8434b","strokeWidth":1,"fill":{"gradient":"linear","x1":0,"y1":0,"x2":0.1065,"y2":1.0874,"stops":[{"offset":0,"color":"#c8434b"},{"offset":0.014,"color":"#c8434b"},{"offset":0.014,"color":"#ffffff"},{"offset":0.03,"color":"#ffffff"},{"offset":0.03,"color":"#c8434b"},{"offset":0.044,"color":"#c8434b"},{"offset":0.044,"color":"#ffffff"},{"offset":0.06,"color":"#ffffff"},{"offset":0.06,"color":"#c8434b"},{"offset":0.074,"color":"#c8434b"},{"offset":0.074,"color":"#ffffff"},{"offset":0.09,"color":"#ffffff"},{"offset":0.09,"color":"#c8434b"},{"offset":0.104,"color":"#c8434b"},{"offset":0.104,"color":"#ffffff"},{"offset":0.12,"color":"#ffffff"},{"offset":0.12,"color":"#c8434b"},{"offset":0.134,"color":"#c8434b"},{"offset":0.134,"color":"#ffffff"},{"offset":0.15,"color":"#ffffff"},{"offset":0.15,"color":"#c8434b"},{"offset":0.164,"color":"#c8434b"},{"offset":0.164,"color":"#ffffff"},{"offset":0.18,"color":"#ffffff"},{"offset":0.18,"color":"#c8434b"},{"offset":0.194,"color":"#c8434b"},{"offset":0.194,"color":"#ffffff"},{"offset":0.21,"color":"#ffffff"},{"offset":0.21,"color":"#c8434b"},{"offset":0.224,"color":"#c8434b"},{"offset":0.224,"color":"#ffffff"},{"offset":0.24,"color":"#ffffff"},{"offset":0.24,"color":"#c8434b"},{"offset":0.254,"color":"#c8434b"},{"offset":0.254,"color":"#ffffff"},{"offset":0.27,"color":"#ffffff"},{"offset":0.27,"color":"#c8434b"},{"offset":0.284,"color":"#c8434b"},{"offset":0.284,"color":"#ffffff"},{"offset":0.3,"color":"#ffffff"},{"offset":0.3,"color":"#c8434b"},{"offset":0.314,"color":"#c8434b"},{"offset":0.314,"color":"#ffffff"},{"offset":0.33,"color":"#ffffff"},{"offset":0.33,"color":"#c8434b"},{"offset":0.344,"color":"#c8434b"},{"offset":0.344,"color":"#ffffff"},{"offset":0.36,"color":"#ffffff"},{"offset":0.36,"color":"#c8434b"},{"offset":0.374,"color":"#c8434b"},{"offset":0.374,"color":"#ffffff"},{"offset":0.39,"color":"#ffffff"},{"offset":0.39,"color":"#c8434b"},{"offset":0.404,"color":"#c8434b"},{"offset":0.404,"color":"#ffffff"},{"offset":0.42,"color":"#ffffff"},{"offset":0.42,"color":"#c8434b"},{"offset":0.434,"color":"#c8434b"},{"offset":0.434,"color":"#ffffff"},{"offset":0.45,"color":"#ffffff"},{"offset":0.45,"color":"#c8434b"},{"offset":0.464,"color":"#c8434b"},{"offset":0.464,"color":"#ffffff"},{"offset":0.48,"color":"#ffffff"},{"offset":0.48,"color":"#c8434b"},{"offset":0.494,"color":"#c8434b"},{"offset":0.494,"color":"#ffffff"},{"offset":0.51,"color":"#ffffff"},{"offset":0.51,"color":"#c8434b"},{"offset":0.524,"color":"#c8434b"},{"offset":0.524,"color":"#ffffff"},{"offset":0.54,"color":"#ffffff"},{"offset":0.54,"color":"#c8434b"},{"offset":0.554,"color":"#c8434b"},{"offset":0.554,"color":"#ffffff"},{"offset":0.57,"color":"#ffffff"},{"offset":0.57,"color":"#c8434b"},{"offset":0.584,"color":"#c8434b"},{"offset":0.584,"color":"#ffffff"},{"offset":0.6,"color":"#ffffff"},{"offset":0.6,"color":"#c8434b"},{"offset":0.614,"color":"#c8434b"},{"offset":0.614,"color":"#ffffff"},{"offset":0.63,"color":"#ffffff"},{"offset":0.63,"color":"#c8434b"},{"offset":0.644,"color":"#c8434b"},{"offset":0.644,"color":"#ffffff"},{"offset":0.66,"color":"#ffffff"},{"offset":0.66,"color":"#c8434b"},{"offset":0.674,"color":"#c8434b"},{"offset":0.674,"color":"#ffffff"},{"offset":0.69,"color":"#ffffff"},{"offset":0.69,"color":"#c8434b"},{"offset":0.704,"color":"#c8434b"},{"offset":0.704,"color":"#ffffff"},{"offset":0.72,"color":"#ffffff"},{"offset":0.72,"color":"#c8434b"},{"offset":0.734,"color":"#c8434b"},{"offset":0.734,"color":"#ffffff"},{"offset":0.75,"color":"#ffffff"},{"offset":0.75,"color":"#c8434b"},{"offset":0.764,"color":"#c8434b"},{"offset":0.764,"color":"#ffffff"},{"offset":0.78,"color":"#ffffff"},{"offset":0.78,"color":"#c8434b"},{"offset":0.794,"color":"#c8434b"},{"offset":0.794,"color":"#ffffff"},{"offset":0.81,"color":"#ffffff"},{"offset":0.81,"color":"#c8434b"},{"offset":0.824,"color":"#c8434b"},{"offset":0.824,"color":"#ffffff"},{"offset":0.84,"color":"#ffffff"},{"offset":0.84,"color":"#c8434b"},{"offset":0.854,"color":"#c8434b"},{"offset":0.854,"color":"#ffffff"},{"offset":0.87,"color":"#ffffff"},{"offset":0.87,"color":"#c8434b"},{"offset":0.884,"color":"#c8434b"},{"offset":0.884,"color":"#ffffff"},{"offset":0.9,"color":"#ffffff"},{"offset":0.9,"color":"#c8434b"},{"offset":0.914,"color":"#c8434b"},{"offset":0.914,"color":"#ffffff"},{"offset":0.93,"color":"#ffffff"},{"offset":0.93,"color":"#c8434b"},{"offset":0.944,"color":"#c8434b"},{"offset":0.944,"color":"#ffffff"},{"offset":0.96,"color":"#ffffff"},{"offset":0.96,"color":"#c8434b"},{"offset":0.974,"color":"#c8434b"},{"offset":0.974,"color":"#ffffff"},{"offset":0.99,"color":"#ffffff"},{"offset":0.99,"color":"#c8434b"},{"offset":1,"color":"#c8434b"}]}}},
    {"transform":[{"filter":"isValid(datum.lo)"}],"mark":{"type":"rule","color":"black","strokeWidth":1.5},"encoding":{"y":{"field":"lo","type":"quantitative","scale":{"domain":[0,180],"nice":false,"zero":true},"title":"% Forced-choice value"},"y2":{"field":"hi"}}}
   ]
  }
 ]}
]
}
